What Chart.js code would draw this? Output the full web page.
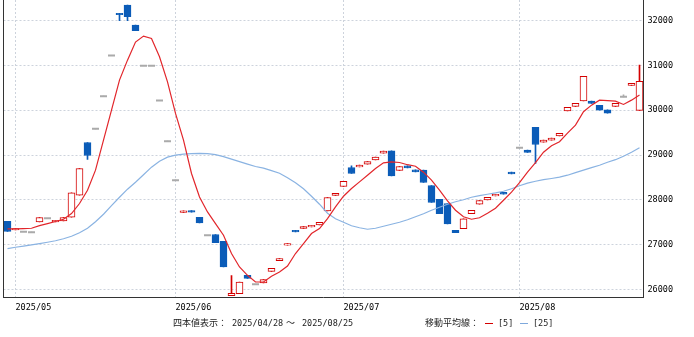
<!DOCTYPE html>
<html>
<head>
<meta charset="utf-8">
<script src="https://cdn.jsdelivr.net/npm/chart.js@4.4.1/dist/chart.umd.min.js"></script>
<style>
    body { margin: 0; background: #fff; }
    #wrap { position: relative; width: 694px; height: 337px; }
    .note { position: absolute; top: 317px; line-height: 12px; font-size: 8.5px; font-family: "DejaVu Sans Mono", monospace; color: #222; white-space: nowrap; }
    .jp { font-family: "Noto Sans CJK JP", sans-serif; font-size: 9px; }
    .dash { position: absolute; top: 323px; width: 8px; height: 1px; }
</style>
</head>
<body>
<div id="wrap">
    <canvas id="chart" width="694" height="337"></canvas>
    <span class="note jp" style="left:173px">四本値表示：</span>
    <span class="note" style="left:232px">2025/04/28</span>
    <span class="note jp" style="left:286px">〜</span>
    <span class="note" style="left:302px">2025/08/25</span>
    <span class="note jp" style="left:425px">移動平均線：</span>
    <span class="dash" style="left:485px;background:#d40000"></span>
    <span class="note" style="left:498px">[5]</span>
    <span class="dash" style="left:520px;background:#7fa9dc"></span>
    <span class="note" style="left:533px">[25]</span>
</div>
<script>
// 営業日
const dates = [
    '2025/04/28',
    '2025/05/01', '2025/05/02', '2025/05/07', '2025/05/08', '2025/05/09',
    '2025/05/12', '2025/05/13', '2025/05/14', '2025/05/15', '2025/05/16',
    '2025/05/19', '2025/05/20', '2025/05/21', '2025/05/22', '2025/05/23',
    '2025/05/26', '2025/05/27', '2025/05/28', '2025/05/29', '2025/05/30',
    '2025/06/02', '2025/06/03', '2025/06/04', '2025/06/05', '2025/06/06',
    '2025/06/09', '2025/06/10', '2025/06/11', '2025/06/12', '2025/06/13',
    '2025/06/16', '2025/06/17', '2025/06/18', '2025/06/19', '2025/06/20',
    '2025/06/23', '2025/06/24', '2025/06/25', '2025/06/26', '2025/06/27',
    '2025/06/30',
    '2025/07/01', '2025/07/02', '2025/07/03', '2025/07/04',
    '2025/07/07', '2025/07/08', '2025/07/09', '2025/07/10', '2025/07/11',
    '2025/07/14', '2025/07/15', '2025/07/16', '2025/07/17', '2025/07/18',
    '2025/07/22', '2025/07/23', '2025/07/24', '2025/07/25',
    '2025/07/28', '2025/07/29', '2025/07/30', '2025/07/31',
    '2025/08/01', '2025/08/04', '2025/08/05', '2025/08/06', '2025/08/07',
    '2025/08/08', '2025/08/12', '2025/08/13', '2025/08/14', '2025/08/15',
    '2025/08/18', '2025/08/19', '2025/08/20', '2025/08/21', '2025/08/22',
    '2025/08/25'
]

// 四本値
const opens = [
    27524, 27330, 27290, 27280, 27509, 27591, 27509, 27531, 27614, 28105,
    29281, 29585, 30314, 31223, 32160, 32345, 31899, 30991, 30991, 30218,
    29310, 28440, 27719, 27763, 27614, 27212, 27228, 27078, 25866, 25911,
    26319, 26118, 26147, 26408, 26647, 26989, 27323, 27362, 27398, 27442,
    27754, 28098, 28299, 28723, 28736, 28797, 28893, 29042, 29094, 28656,
    28759, 28670, 28663, 28321, 28015, 27920, 27323, 27361, 27696, 27904,
    28000, 28089, 28171, 28618, 29161, 29109, 29616, 29288, 29332, 29428,
    29986, 30085, 30210, 30203, 30107, 30009, 30085, 30299, 30553, 29995
]
const highs = [
    27524, 27360, 27290, 27280, 27607, 27591, 27547, 27607, 28156, 28701,
    29281, 29585, 30314, 31223, 32160, 32345, 31899, 30991, 30991, 30218,
    29310, 28440, 27754, 27763, 27614, 27212, 27228, 27078, 26312, 26170,
    26319, 26118, 26223, 26475, 26692, 27027, 27323, 27406, 27436, 27502,
    28053, 28149, 28417, 28760, 28774, 28857, 28953, 29087, 29094, 28745,
    28759, 28670, 28663, 28321, 28015, 27920, 27323, 27576, 27770, 27987,
    28060, 28127, 28171, 28618, 29161, 29109, 29616, 29332, 29377, 29482,
    30062, 30151, 30754, 30203, 30107, 30009, 30151, 30343, 30597, 31004
]
const lows = [
    27295, 27330, 27290, 27280, 27509, 27591, 27509, 27531, 27614, 28105,
    28902, 29585, 30314, 31223, 31995, 31995, 31772, 30991, 30991, 30218,
    29310, 28440, 27719, 27725, 27487, 27212, 27049, 26504, 25866, 25911,
    26252, 26118, 26147, 26408, 26647, 26989, 27286, 27362, 27398, 27442,
    27754, 28098, 28299, 28589, 28736, 28797, 28893, 29042, 28536, 28656,
    28714, 28625, 28388, 27942, 27696, 27465, 27272, 27361, 27696, 27904,
    28000, 28089, 28127, 28580, 29161, 29058, 28812, 29288, 29332, 29428,
    29986, 30085, 30210, 30152, 30002, 29935, 30085, 30299, 30553, 29995
]
const closes = [
    27295, 27360, 27290, 27280, 27607, 27591, 27547, 27607, 28156, 28701,
    28991, 29585, 30314, 31223, 32130, 32085, 31772, 30991, 30991, 30218,
    29310, 28440, 27754, 27725, 27487, 27212, 27049, 26504, 25917, 26170,
    26252, 26118, 26223, 26475, 26692, 27027, 27286, 27406, 27436, 27502,
    28053, 28149, 28417, 28589, 28774, 28857, 28953, 29087, 28536, 28745,
    28714, 28625, 28388, 27942, 27696, 27465, 27272, 27576, 27770, 27987,
    28060, 28127, 28127, 28580, 29161, 29058, 29236, 29332, 29377, 29482,
    30062, 30151, 30754, 30152, 30002, 29935, 30151, 30299, 30597, 30642
]

// 移動平均線
const ma5 = [
    27353, 27353, 27360, 27368, 27428, 27473, 27518, 27569, 27696, 27920,
    28216, 28663, 29332, 30002, 30672, 31117, 31520, 31654, 31602, 31192,
    30634, 29928, 29332, 28589, 28067, 27732, 27473, 27212, 26804, 26504,
    26319, 26170, 26170, 26297, 26393, 26527, 26804, 27027, 27250, 27362,
    27585, 27844, 28082, 28254, 28402, 28551, 28701, 28826, 28848, 28834,
    28785, 28752, 28618, 28440, 28216, 27978, 27770, 27625, 27569, 27603,
    27703, 27815, 27993, 28172, 28384, 28618, 28830, 29064, 29209, 29298,
    29488, 29667, 29968, 30113, 30225, 30214, 30203, 30129, 30225, 30337
]
const ma25 = [
    26915, 26944, 26971, 26998, 27027, 27056, 27089, 27134, 27190, 27268,
    27368, 27513, 27681, 27871, 28060, 28239, 28395, 28562, 28730, 28864,
    28953, 28998, 29020, 29031, 29036, 29031, 29009, 28964, 28908, 28853,
    28797, 28745, 28708, 28652, 28596, 28496, 28384, 28250, 28082, 27904,
    27703, 27580, 27502, 27424, 27380, 27346, 27368, 27413, 27458, 27502,
    27558, 27625, 27692, 27770, 27837, 27904, 27960, 28004, 28060, 28094,
    28127, 28156, 28194, 28250, 28317, 28373, 28417, 28451, 28478, 28507,
    28551, 28607, 28663, 28719, 28774, 28841, 28897, 28975, 29064, 29165
]

const yTicks = [26000, 27000, 28000, 29000, 30000, 31000, 32000]

const UP = '#d40000'
const DOWN = '#0b5cb8'
const FLAT = '#aaaaaa'
const GRID = '#cdd3dc'
const tickFont = {family: 'DejaVu Sans Mono', size: 8.5}

const isMonthStart = i => i > 0 && dates[i].slice(0, 7) !== dates[i - 1].slice(0, 7)
const candleColor = i => closes[i] > opens[i] ? UP : (closes[i] < opens[i] ? DOWN : FLAT)

// 左の枠線
const frame = {
    id: 'frame',
    afterDraw(chart) {
        const {ctx, chartArea} = chart
        ctx.save()
        ctx.strokeStyle = '#333'
        ctx.lineWidth = 1
        ctx.beginPath()
        ctx.moveTo(chartArea.left, chartArea.top)
        ctx.lineTo(chartArea.left, chartArea.bottom)
        ctx.stroke()
        ctx.restore()
    }
}

new Chart(document.getElementById('chart'), {
    type: 'bar',
    data: {
        labels: dates,
        datasets: [
            {
                label: 'MA5',
                type: 'line',
                data: ma5,
                borderColor: '#e2262b',
                borderWidth: 1.2,
                pointRadius: 0,
                order: 0
            },
            {
                label: 'MA25',
                type: 'line',
                data: ma25,
                borderColor: '#8ab3e2',
                borderWidth: 1.2,
                pointRadius: 0,
                order: 1
            },
            {
                label: 'doji',
                type: 'line',
                data: dates.map((d, i) => opens[i] === closes[i] ? closes[i] : null),
                showLine: false,
                pointStyle: 'line',
                pointRadius: 3.5,
                pointBorderWidth: 2,
                pointBorderColor: FLAT,
                order: 2
            },
            {
                label: 'body',
                data: dates.map((d, i) => opens[i] === closes[i] ? null : [opens[i], closes[i]]),
                backgroundColor: dates.map((d, i) => closes[i] > opens[i] ? '#ffffff' : DOWN),
                borderColor: dates.map((d, i) => candleColor(i)),
                borderWidth: 1,
                borderSkipped: false,
                barThickness: 7,
                grouped: false,
                order: 3
            },
            {
                label: 'wick',
                data: dates.map((d, i) => [lows[i], highs[i]]),
                backgroundColor: dates.map((d, i) => candleColor(i)),
                barThickness: 1,
                grouped: false,
                order: 4
            }
        ]
    },
    options: {
        responsive: false,
        animation: false,
        layout: {autoPadding: false, padding: {left: 3.5, top: 0, right: 0, bottom: 0}},
        plugins: {
            legend: {display: false},
            tooltip: {enabled: false}
        },
        scales: {
            x: {
                offset: true,
                grid: {
                    offset: false,
                    drawTicks: false,
                    color: ctx => isMonthStart(ctx.index) ? GRID : 'transparent'
                },
                border: {color: '#333', dash: [2, 2]},
                ticks: {
                    autoSkip: false,
                    maxRotation: 0,
                    align: 'start',
                    padding: 6,
                    color: '#000',
                    font: tickFont,
                    callback: (value, i) => isMonthStart(i) ? dates[i].slice(0, 7) : ''
                },
                afterFit: scale => {
                    scale.height = 40
                    scale.paddingLeft = 0
                    scale.paddingRight = 0
                }
            },
            y: {
                position: 'right',
                min: 25835,
                max: 32458,
                afterBuildTicks: scale => {
                    scale.ticks = yTicks.map(v => ({value: v}))
                },
                grid: {color: GRID, drawTicks: false},
                border: {color: '#333', dash: [2, 2]},
                ticks: {
                    padding: 4,
                    color: '#000',
                    font: tickFont,
                    callback: value => String(value)
                },
                afterFit: scale => {
                    scale.width = 50.5
                    scale.paddingTop = 0
                    scale.paddingBottom = 0
                }
            }
        }
    },
    plugins: [frame]
})
</script>
</body>
</html>
